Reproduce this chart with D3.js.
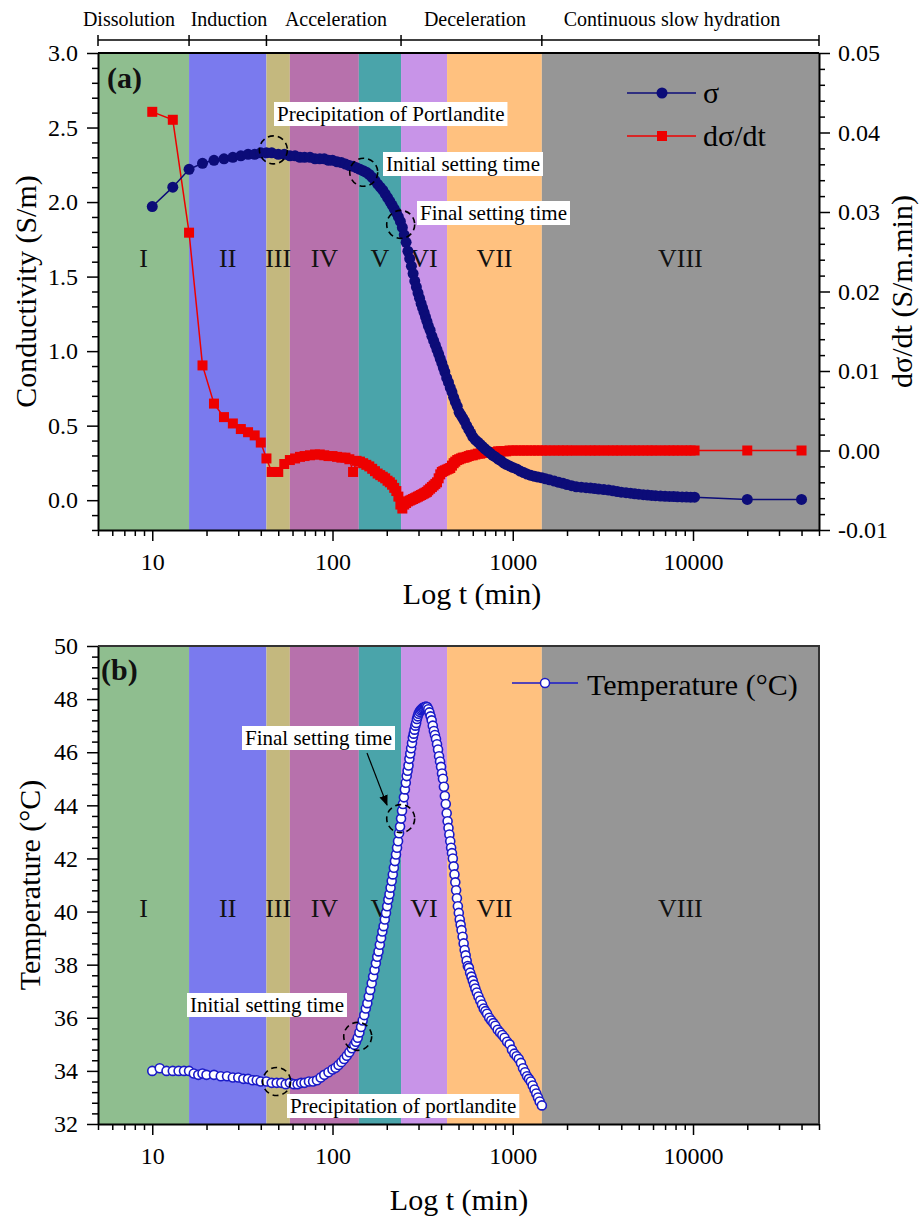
<!DOCTYPE html>
<html>
<head>
<meta charset="utf-8">
<script src="https://cdn.jsdelivr.net/npm/d3@7"></script>
<style>
body { margin: 0; background: #fff; }
svg { display: block; }
svg text { font-family: "Liberation Serif", "Times New Roman", serif !important; }
.tick text { font-size: 24px; fill: #000; }
.tick line { stroke: #000; stroke-width: 1.5; }
.domain { stroke: #000; stroke-width: 2; }
</style>
</head>
<body>
<svg id="chart" width="919" height="1218"></svg>
<script>
// hydration stages (boundaries in min)
var stageEdges = [5, 16, 43, 58, 140, 240, 432, 1450, 50000];
var stageNames = ["I", "II", "III", "IV", "V", "VI", "VII", "VIII"];
var stageColors = ["#8fbe8f", "#7a7aee", "#c4b87e", "#b771ac", "#4aa4aa", "#c894e8", "#ffc17f", "#969696"];

var phaseEdges = [5, 16, 43, 240, 1450, 50000];
var phaseNames = ["Dissolution", "Induction", "Acceleration", "Deceleration", "Continuous slow hydration"];

// conductivity measurement (min), sigma (S/m), dsigma/dt (S/m.min)
var condTime = [10, 13, 16, 19, 22, 25, 28, 31, 34, 37,
  40, 43, 46, 50, 54, 58, 62, 66, 70, 75,
  80, 85, 90, 95, 100, 106, 112, 118, 124, 130,
  136, 142, 148, 154, 160, 166, 172, 178, 184, 190,
  196, 202, 208, 214, 220, 226, 232, 238, 244, 250,
  256, 262, 268, 274, 280, 286, 292, 298, 304, 310,
  316, 322, 328, 334, 340, 348, 356, 364, 372, 380,
  388, 396, 404, 412, 420, 430, 440, 450, 460, 470,
  480, 492, 504, 516, 528, 540, 555, 570, 585, 600,
  620, 640, 660, 680, 700, 725, 750, 775, 800, 830,
  860, 890, 920, 960, 1000, 1050, 1100, 1150, 1200, 1260,
  1320, 1380, 1450, 1520, 1600, 1700, 1800, 1900, 2000, 2120,
  2250, 2400, 2550, 2700, 2850, 3000, 3200, 3400, 3600, 3800,
  4000, 4250, 4500, 4750, 5000, 5300, 5600, 5900, 6200, 6600,
  7000, 7400, 7800, 8200, 8700, 9200, 9700, 10200, 20000, 40000];

var sigma = [1.97, 2.10, 2.22, 2.26, 2.28, 2.29, 2.30, 2.31, 2.32, 2.32,
  2.33, 2.33, 2.33, 2.32, 2.32, 2.31, 2.31, 2.30, 2.30, 2.30,
  2.29, 2.29, 2.29, 2.28, 2.28, 2.27, 2.265, 2.255, 2.245, 2.24,
  2.23, 2.22, 2.21, 2.20, 2.185, 2.165, 2.145, 2.12, 2.10, 2.08,
  2.055, 2.03, 2.005, 1.98, 1.955, 1.93, 1.90, 1.87, 1.83, 1.78,
  1.73, 1.67, 1.62, 1.57, 1.52, 1.47, 1.43, 1.39, 1.355, 1.32,
  1.29, 1.26, 1.23, 1.20, 1.17, 1.14, 1.10, 1.07, 1.04, 1.01,
  0.98, 0.95, 0.92, 0.89, 0.86, 0.82, 0.79, 0.755, 0.725, 0.69,
  0.66, 0.63, 0.59, 0.57, 0.55, 0.53, 0.50, 0.475, 0.45, 0.425,
  0.405, 0.39, 0.375, 0.36, 0.345, 0.33, 0.315, 0.30, 0.29, 0.275,
  0.265, 0.25, 0.24, 0.23, 0.22, 0.21, 0.195, 0.185, 0.175, 0.167,
  0.16, 0.155, 0.15, 0.143, 0.137, 0.128, 0.12, 0.113, 0.105, 0.097,
  0.09, 0.087, 0.084, 0.081, 0.078, 0.075, 0.071, 0.068, 0.063, 0.058,
  0.054, 0.05, 0.047, 0.043, 0.04, 0.037, 0.034, 0.032, 0.03, 0.028,
  0.026, 0.025, 0.024, 0.023, 0.022, 0.021, 0.02, 0.02, 0.005, 0.005];

var dSigma = [0.0426, 0.0416, 0.0274, 0.0107, 0.0059, 0.0042, 0.0034, 0.0027, 0.0023, 0.0019,
  0.0010, -0.0010, -0.0027, -0.0027, -0.0017, -0.0012, -0.0010, -0.0008, -0.0007, -0.0006,
  -0.0005, -0.0005, -0.0006, -0.0007, -0.0007, -0.0008, -0.0009, -0.0009, -0.0011, -0.0027,
  -0.0013, -0.0014, -0.0016, -0.0018, -0.0020, -0.0023, -0.0026, -0.0029, -0.0031, -0.0033,
  -0.0035, -0.0038, -0.0040, -0.0043, -0.0047, -0.0051, -0.0058, -0.0068, -0.0073, -0.0068,
  -0.0066, -0.0064, -0.0063, -0.0062, -0.0061, -0.0060, -0.0059, -0.0058, -0.0057, -0.0056,
  -0.0055, -0.0054, -0.0053, -0.0052, -0.0050, -0.0048, -0.0046, -0.0044, -0.0042, -0.0040,
  -0.0035, -0.0030, -0.0027, -0.0026, -0.0025, -0.0024, -0.0023, -0.0022, -0.0019, -0.0016,
  -0.0014, -0.0012, -0.0011, -0.0010, -0.0009, -0.0009, -0.0008, -0.0007, -0.0006, -0.0006,
  -0.0005, -0.0004, -0.0004, -0.0003, -0.0003, -0.0002, -0.0002, -0.0002, -0.0002, -0.0001,
  -0.0001, -0.0001, -0.0001, 0, 0, 0, 0, 0, 0, 0,
  0, 0, 0, 0, 0, 0, 0, 0, 0, 0,
  0, 0, 0, 0, 0, 0, 0, 0, 0, 0,
  0, 0, 0, 0, 0, 0, 0, 0, 0, 0,
  0, 0, 0, 0, 0, 0, 0, 0, 0, 0];

// temperature measurement (min), temperature (°C)
var tempTime = [10, 11, 12, 13, 14, 15, 16, 17, 18, 19,
  20, 22, 24, 26, 28, 30, 32, 34, 36, 38,
  40, 43, 46, 49, 52, 55, 58, 61, 64, 67,
  70, 74, 78, 82, 86, 90, 95, 100, 104, 108,
  112, 116, 120, 124, 128, 132, 135, 138, 141, 144,
  147, 150, 153, 156, 159, 162, 165, 168, 171, 174,
  177, 180, 183, 186, 189, 192, 195, 198, 201, 204,
  207, 210, 213, 216, 219, 222, 225, 228, 231, 234,
  237, 240, 243, 246, 249, 252, 255, 258, 261, 264,
  267, 270, 273, 276, 279, 282, 285, 288, 291, 294,
  297, 300, 304, 308, 312, 316, 320, 325, 330, 335,
  340, 345, 350, 355, 360, 365, 370, 375, 380, 385,
  390, 395, 400, 405, 410, 415, 420, 425, 430, 435,
  440, 445, 450, 455, 460, 465, 470, 475, 480, 485,
  490, 496, 502, 508, 514, 520, 527, 534, 541, 548,
  555, 563, 571, 580, 590, 600, 610, 620, 632, 645,
  660, 675, 690, 705, 720, 740, 760, 780, 800, 825,
  850, 875, 900, 930, 960, 990, 1020, 1050, 1080, 1110,
  1140, 1170, 1200, 1230, 1260, 1290, 1320, 1350, 1380, 1410,
  1450];

var temperature = [34.0, 34.1, 34.0, 34.0, 34.0, 34.0, 34.0, 33.9, 33.85, 33.9,
  33.85, 33.85, 33.8, 33.8, 33.75, 33.75, 33.7, 33.7, 33.65, 33.65,
  33.6, 33.6, 33.55, 33.55, 33.55, 33.5, 33.55, 33.5, 33.5, 33.55,
  33.55, 33.6, 33.6, 33.65, 33.75, 33.85, 33.95, 34.05, 34.12, 34.22,
  34.33, 34.45, 34.57, 34.70, 34.85, 34.98, 35.1, 35.25, 35.45, 35.65,
  35.9, 36.1, 36.35, 36.55, 36.8, 37.05, 37.3, 37.55, 37.8, 38.05,
  38.3, 38.5, 38.75, 39.0, 39.25, 39.45, 39.7, 39.95, 40.2, 40.45,
  40.65, 40.9, 41.15, 41.4, 41.65, 41.9, 42.15, 42.4, 42.65, 42.95,
  43.2, 43.5, 43.8, 44.05, 44.3, 44.6, 44.85, 45.1, 45.3, 45.5,
  45.75, 45.95, 46.15, 46.35, 46.55, 46.7, 46.85, 47.0, 47.1, 47.25,
  47.35, 47.45, 47.52, 47.58, 47.62, 47.66, 47.68, 47.7, 47.72, 47.7,
  47.62, 47.5, 47.35, 47.2, 47.0, 46.8, 46.65, 46.5, 46.3, 46.1,
  45.85, 45.65, 45.45, 45.2, 45.0, 44.7, 44.35, 44.05, 43.7, 43.4,
  43.15, 42.9, 42.65, 42.4, 42.2, 42.0, 41.7, 41.4, 41.1, 40.8,
  40.5, 40.2, 39.95, 39.7, 39.5, 39.3, 39.05, 38.8, 38.55, 38.35,
  38.15, 37.95, 37.88, 37.7, 37.55, 37.4, 37.25, 37.1, 36.95, 36.8,
  36.65, 36.5, 36.35, 36.25, 36.15, 36.0, 35.9, 35.8, 35.7, 35.55,
  35.45, 35.35, 35.25, 35.1, 35.0, 34.8, 34.65, 34.55, 34.45, 34.3,
  34.1, 33.95, 33.8, 33.7, 33.6, 33.45, 33.3, 33.15, 33.0, 32.85,
  32.7];

var xTicks = [10, 100, 1000, 10000];
var condTicks = [0, 0.5, 1.0, 1.5, 2.0, 2.5, 3.0];
var rateTicks = [-0.01, 0, 0.01, 0.02, 0.03, 0.04, 0.05];
var tempTicks = [32, 34, 36, 38, 40, 42, 44, 46, 48, 50];

var svg = d3.select("#chart");
var left = 98, right = 819;
var navy = "#0c0c78", red = "#ee0000", tblue = "#1a1ac8";

var x = d3.scaleLog().domain([5, 50000]).range([left, right]);

// minor tick positions on the log axis
var xMinor = [];
[1, 10, 100, 1000, 10000].forEach(function (dec) {
  for (var k = 2; k <= 9; k++) {
    var v = k * dec;
    if (v >= 5 && v <= 50000) xMinor.push(v);
  }
});
function minorsOf(lo, hi, step, majors) {
  return d3.range(Math.round((hi - lo) / step) + 1)
    .map(function (i) { return +(lo + i * step).toFixed(5); })
    .filter(function (v) { return majors.every(function (m) { return Math.abs(m - v) > step / 10; }); });
}

function drawPanel(top, bottom, id) {
  var g = svg.append("g");
  g.append("clipPath").attr("id", "clip" + id).append("rect")
    .attr("x", left).attr("y", top).attr("width", right - left).attr("height", bottom - top);

  // stage bands
  g.selectAll(".band").data(stageNames).enter().append("rect")
    .attr("x", function (d, i) { return x(stageEdges[i]); })
    .attr("y", top)
    .attr("width", function (d, i) { return x(stageEdges[i + 1]) - x(stageEdges[i]); })
    .attr("height", bottom - top)
    .attr("fill", function (d, i) { return stageColors[i]; });

  // x axis
  g.append("g").attr("transform", "translate(0," + bottom + ")")
    .call(d3.axisBottom(x).tickValues(xMinor).tickSize(6).tickFormat(""))
    .call(function (s) { s.select(".domain").remove(); });
  g.append("g").attr("transform", "translate(0," + bottom + ")")
    .call(d3.axisBottom(x).tickValues(xTicks).tickSize(11).tickSizeOuter(0).tickPadding(12)
      .tickFormat(d3.format("d")));
  return g;
}

function yAxis(g, scale, xpos, side, majors, minors, fmt) {
  var fn = side === "left" ? d3.axisLeft : d3.axisRight;
  g.append("g").attr("transform", "translate(" + xpos + ",0)")
    .call(fn(scale).tickValues(minors).tickSize(6).tickFormat(""))
    .call(function (s) { s.select(".domain").remove(); });
  g.append("g").attr("transform", "translate(" + xpos + ",0)")
    .call(fn(scale).tickValues(majors).tickSize(11).tickSizeOuter(0).tickPadding(side === "left" ? 9 : 8)
      .tickFormat(fmt));
}

function stageLabels(g, baseline) {
  g.selectAll(".stg").data(stageNames).enter().append("text")
    .attr("x", function (d, i) { return (x(stageEdges[i]) + x(stageEdges[i + 1])) / 2; })
    .attr("y", baseline)
    .attr("text-anchor", "middle")
    .attr("font-size", 26)
    .attr("fill", "#111")
    .text(function (d) { return d; });
}

function noteBox(g, tx, ty, label) {
  var t = g.append("text").attr("x", tx).attr("y", ty).attr("font-size", 21).attr("fill", "#000").text(label);
  var b = t.node().getBBox();
  g.insert("rect", function () { return t.node(); })
    .attr("x", b.x - 3).attr("y", b.y).attr("width", b.width + 6).attr("height", b.height)
    .attr("fill", "#fff");
}

function dashedRing(g, cx, cy) {
  g.append("circle").attr("cx", cx).attr("cy", cy).attr("r", 14)
    .attr("fill", "none").attr("stroke", "#000").attr("stroke-width", 1.6)
    .attr("stroke-dasharray", "6,4");
}

// ---------------- panel (a) ----------------
var aTop = 53, aBottom = 530;
var yC = d3.scaleLinear().domain([-0.2, 3.0]).range([aBottom, aTop]);
var yR = d3.scaleLinear().domain([-0.01, 0.05]).range([aBottom, aTop]);

var ga = drawPanel(aTop, aBottom, "a");
yAxis(ga, yC, left, "left", condTicks, minorsOf(-0.2, 3.0, 0.1, condTicks), d3.format(".1f"));
yAxis(ga, yR, right, "right", rateTicks, minorsOf(-0.01, 0.05, 0.002, rateTicks),
  function (d) { return d.toFixed(2); });
ga.append("line").attr("x1", left).attr("x2", right).attr("y1", aTop).attr("y2", aTop)
  .attr("stroke", "#000").attr("stroke-width", 2);

// phase bracket on top
var headerX = [129, 229, 336, 475, 672];
var hdr = svg.append("g");
hdr.append("line").attr("x1", x(5)).attr("x2", x(50000)).attr("y1", 40).attr("y2", 40)
  .attr("stroke", "#000").attr("stroke-width", 1.5);
hdr.selectAll(".pt").data(phaseEdges).enter().append("line")
  .attr("x1", function (d) { return x(d); }).attr("x2", function (d) { return x(d); })
  .attr("y1", 35).attr("y2", 46).attr("stroke", "#000").attr("stroke-width", 1.5);
hdr.selectAll(".pn").data(phaseNames).enter().append("text")
  .attr("x", function (d, i) { return headerX[i]; })
  .attr("y", 26).attr("text-anchor", "middle").attr("font-size", 20).attr("fill", "#000")
  .text(function (d) { return d; });

stageLabels(ga, 267);

var condData = condTime.map(function (t, i) { return { t: t, s: sigma[i], r: dSigma[i] }; });
var plotA = ga.append("g").attr("clip-path", "url(#clipa)");

plotA.append("path").datum(condData)
  .attr("fill", "none").attr("stroke", red).attr("stroke-width", 1.5)
  .attr("d", d3.line().x(function (d) { return x(d.t); }).y(function (d) { return yR(d.r); }));
plotA.selectAll(".sq").data(condData).enter().append("rect")
  .attr("x", function (d) { return x(d.t) - 5; })
  .attr("y", function (d) { return yR(d.r) - 5; })
  .attr("width", 10).attr("height", 10).attr("fill", red);

plotA.append("path").datum(condData)
  .attr("fill", "none").attr("stroke", navy).attr("stroke-width", 1.5)
  .attr("d", d3.line().x(function (d) { return x(d.t); }).y(function (d) { return yC(d.s); }));
plotA.selectAll(".dot").data(condData).enter().append("circle")
  .attr("cx", function (d) { return x(d.t); })
  .attr("cy", function (d) { return yC(d.s); })
  .attr("r", 5.5).attr("fill", navy);

noteBox(ga, 277, 121, "Precipitation of Portlandite");
noteBox(ga, 386, 171, "Initial setting time");
noteBox(ga, 420, 220, "Final setting time");
dashedRing(ga, x(47), yC(2.35));
dashedRing(ga, x(149), yC(2.20));
dashedRing(ga, x(239), yC(1.85));

ga.append("text").attr("x", 107).attr("y", 88).attr("font-size", 30).attr("font-weight", "bold")
  .attr("fill", "#111").text("(a)");

// legend (a)
var lg = ga.append("g");
lg.append("line").attr("x1", 627).attr("x2", 696).attr("y1", 93).attr("y2", 93)
  .attr("stroke", navy).attr("stroke-width", 1.5);
lg.append("circle").attr("cx", 662).attr("cy", 93).attr("r", 5.5).attr("fill", navy);
lg.append("text").attr("x", 703).attr("y", 103).attr("font-size", 30).attr("fill", "#000").text("σ");
lg.append("line").attr("x1", 627).attr("x2", 696).attr("y1", 136).attr("y2", 136)
  .attr("stroke", red).attr("stroke-width", 1.5);
lg.append("rect").attr("x", 657).attr("y", 131).attr("width", 10).attr("height", 10).attr("fill", red);
lg.append("text").attr("x", 703).attr("y", 146).attr("font-size", 30).attr("fill", "#000").text("dσ/dt");

// axis titles (a)
svg.append("text").attr("transform", "translate(36," + (aTop + aBottom) / 2 + ") rotate(-90)")
  .attr("text-anchor", "middle").attr("font-size", 30).attr("fill", "#000").text("Conductivity (S/m)");
svg.append("text").attr("transform", "translate(912," + (aTop + aBottom) / 2 + ") rotate(-90)")
  .attr("text-anchor", "middle").attr("font-size", 30).attr("fill", "#000").text("dσ/dt (S/m.min)");
svg.append("text").attr("x", 472).attr("y", 604).attr("text-anchor", "middle")
  .attr("font-size", 30).attr("fill", "#000").text("Log t (min)");

// ---------------- panel (b) ----------------
var bTop = 646, bBottom = 1124;
var yT = d3.scaleLinear().domain([32, 50]).range([bBottom, bTop]);

var gb = drawPanel(bTop, bBottom, "b");
yAxis(gb, yT, left, "left", tempTicks, minorsOf(32, 50, 0.4, tempTicks), d3.format("d"));
gb.append("path")
  .attr("d", "M" + left + "," + bTop + "H" + right + "V" + bBottom)
  .attr("fill", "none").attr("stroke", "#333").attr("stroke-width", 2);

stageLabels(gb, 917);

var tempData = tempTime.map(function (t, i) { return { t: t, v: temperature[i] }; });
var plotB = gb.append("g").attr("clip-path", "url(#clipb)");
plotB.append("path").datum(tempData)
  .attr("fill", "none").attr("stroke", tblue).attr("stroke-width", 1.5)
  .attr("d", d3.line().x(function (d) { return x(d.t); }).y(function (d) { return yT(d.v); }));
plotB.selectAll(".oc").data(tempData).enter().append("circle")
  .attr("cx", function (d) { return x(d.t); })
  .attr("cy", function (d) { return yT(d.v); })
  .attr("r", 4.5).attr("fill", "#fff").attr("stroke", tblue).attr("stroke-width", 1.6);

noteBox(gb, 245, 745, "Final setting time");
noteBox(gb, 190, 1012, "Initial setting time");
noteBox(gb, 290, 1113, "Precipitation of portlandite");
dashedRing(gb, x(49), yT(33.6));
dashedRing(gb, x(138), yT(35.3));
dashedRing(gb, x(239), yT(43.5));

svg.append("defs").append("marker").attr("id", "arrow")
  .attr("viewBox", "0 0 10 10").attr("refX", 9).attr("refY", 5)
  .attr("markerWidth", 9).attr("markerHeight", 9).attr("orient", "auto")
  .append("path").attr("d", "M0,1L10,5L0,9Z").attr("fill", "#000");
gb.append("line").attr("x1", 367).attr("y1", 753).attr("x2", 387).attr("y2", 805)
  .attr("stroke", "#000").attr("stroke-width", 1.2).attr("marker-end", "url(#arrow)");

gb.append("text").attr("x", 101).attr("y", 680).attr("font-size", 30).attr("font-weight", "bold")
  .attr("fill", "#111").text("(b)");

// legend (b)
gb.append("line").attr("x1", 512).attr("x2", 578).attr("y1", 683).attr("y2", 683)
  .attr("stroke", tblue).attr("stroke-width", 1.5);
gb.append("circle").attr("cx", 545).attr("cy", 683).attr("r", 4.5)
  .attr("fill", "#fff").attr("stroke", tblue).attr("stroke-width", 1.5);
gb.append("text").attr("x", 587).attr("y", 695).attr("font-size", 30).attr("fill", "#000")
  .text("Temperature (°C)");

svg.append("text").attr("transform", "translate(40," + (bTop + bBottom) / 2 + ") rotate(-90)")
  .attr("text-anchor", "middle").attr("font-size", 30).attr("fill", "#000").text("Temperature (°C)");
svg.append("text").attr("x", 459).attr("y", 1210).attr("text-anchor", "middle")
  .attr("font-size", 30).attr("fill", "#000").text("Log t (min)");
</script>
</body>
</html>
